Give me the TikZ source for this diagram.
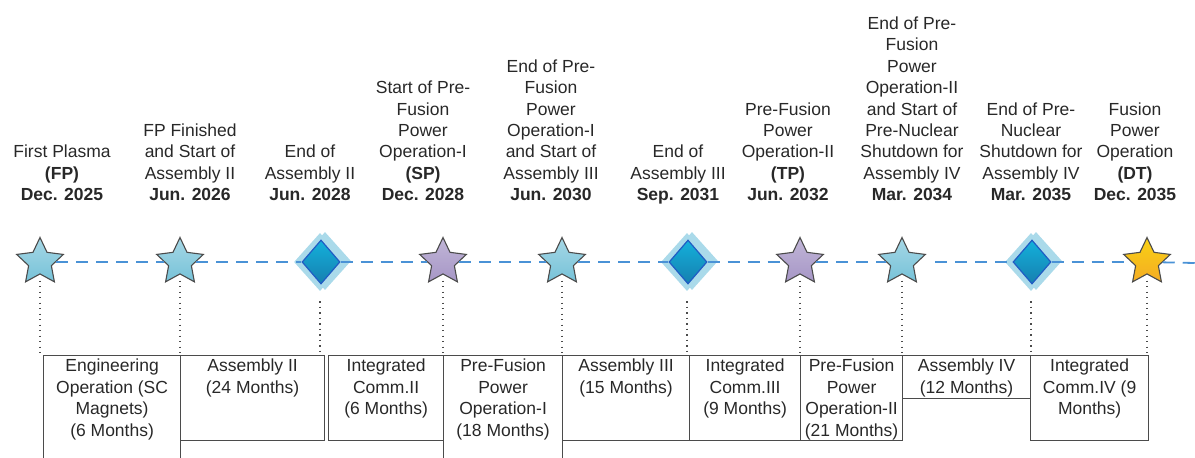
\documentclass[tikz,border=0pt]{standalone}
\usepackage{fontspec}
\setmainfont{Liberation Sans}
\definecolor{textgray}{RGB}{40,40,40}
\definecolor{linegray}{RGB}{75,75,75}
\definecolor{dashblue}{RGB}{74,146,214}
\definecolor{starcyan}{RGB}{118,194,216}
\definecolor{starpurple}{RGB}{166,150,198}
\definecolor{starorange}{RGB}{244,172,36}
\definecolor{diamblue}{RGB}{26,150,206}
\definecolor{diamedge}{RGB}{32,92,196}
\definecolor{halo}{RGB}{170,218,234}
\usetikzlibrary{shapes.geometric}
\newcommand\msdate[1]{\textbf{#1}\strut}

\begin{document}
\begin{tikzpicture}[x=1pt,y=-1pt,
  every node/.style={font=\fontsize{17.5}{21.4}\selectfont, text=textgray},
  milestone/.style={star, star points=5, star point ratio=2.05, minimum size=49pt,
    inner sep=0pt, draw=linegray, line width=1.1pt},
  cyanstar/.style={milestone, top color=starcyan!65!white, bottom color=starcyan},
  purplestar/.style={milestone, top color=starpurple!70!white, bottom color=starpurple},
  goldstar/.style={milestone, top color=starorange!55!yellow, bottom color=starorange},
  gate/.style={diamond, minimum width=38pt, minimum height=44pt, inner sep=0pt,
    draw=diamedge, line width=1.2pt, top color=diamblue!75!cyan, bottom color=diamblue!85!black},
  halo/.style={diamond, minimum width=52pt, minimum height=58pt, inner sep=0pt, fill=halo},
  timeline/.style={draw=dashblue, line width=1.8pt, dash pattern=on 12pt off 8pt},
  guide/.style={draw=linegray, line width=1.1pt, dash pattern=on 1.3pt off 4.2pt, shorten <=6pt},
  lbl/.style={anchor=south, align=center, inner sep=0pt},
  box/.style={draw=linegray, line width=1.2pt, inner sep=0pt, anchor=north west},
  boxtext/.style={anchor=north, align=center, inner sep=0pt, yshift=-4pt}]

  \useasboundingbox (0,0) rectangle (1195,458);
  \clip (0,0) rectangle (1195,458);

  % milestone labels
  \node[lbl] (l1) at (62,207.4) {First Plasma\\\textbf{(FP)}\\\msdate{Dec. 2025}};
  \node[lbl] (l2) at (190,207.4) {FP Finished\\and Start of\\Assembly II\\\msdate{Jun. 2026}};
  \node[lbl] (l3) at (310,207.4) {End of\\Assembly II\\\msdate{Jun. 2028}};
  \node[lbl] (l4) at (423,207.4) {Start of Pre-\\Fusion\\Power\\Operation-I\\\textbf{(SP)}\\\msdate{Dec. 2028}};
  \node[lbl] (l5) at (551,207.4) {End of Pre-\\Fusion\\Power\\Operation-I\\and Start of\\Assembly III\\\msdate{Jun. 2030}};
  \node[lbl] (l6) at (678,207.4) {End of\\Assembly III\\\msdate{Sep. 2031}};
  \node[lbl] (l7) at (788,207.4) {Pre-Fusion\\Power\\Operation-II\\\textbf{(TP)}\\\msdate{Jun. 2032}};
  \node[lbl] (l8) at (912,207.4) {End of Pre-\\Fusion\\Power\\Operation-II\\and Start of\\Pre-Nuclear\\Shutdown for\\Assembly IV\\\msdate{Mar. 2034}};
  \node[lbl] (l9) at (1031,207.4) {End of Pre-\\Nuclear\\Shutdown for\\Assembly IV\\\msdate{Mar. 2035}};
  \node[lbl] (l10) at (1135,207.4) {Fusion\\Power\\Operation\\\textbf{(DT)}\\\msdate{Dec. 2035}};

  % markers
  \node[halo] (h3) at (320,262) {};
  \node[halo, xshift=5pt, yshift=1pt] (h3b) at (320,262) {};
  \node[halo] (h6) at (687,262) {};
  \node[halo, xshift=5pt, yshift=1pt] (h6b) at (687,262) {};
  \node[halo] (h9) at (1031,262) {};
  \node[halo, xshift=5pt, yshift=1pt] (h9b) at (1031,262) {};

  \node[cyanstar] (m1) at (40,262) {};
  \node[cyanstar] (m2) at (180,262) {};
  \node[gate] (m3) at (321,262) {};
  \node[purplestar] (m4) at (443,262) {};
  \node[cyanstar] (m5) at (562,262) {};
  \node[gate] (m6) at (688,262) {};
  \node[purplestar] (m7) at (800,262) {};
  \node[cyanstar] (m8) at (902,262) {};
  \node[gate] (m9) at (1032,262) {};
  \node[goldstar] (m10) at (1147,262) {};
  \coordinate (tend) at (1195,263);

  \draw[timeline] (m1) -- (m2);
  \draw[timeline] (m2) -- (m3);
  \draw[timeline] (m3) -- (m4);
  \draw[timeline] (m4) -- (m5);
  \draw[timeline] (m5) -- (m6);
  \draw[timeline] (m6) -- (m7);
  \draw[timeline] (m7) -- (m8);
  \draw[timeline, shorten <=17pt] (m8) -- (m9);
  \draw[timeline] (m9) -- (m10);
  \draw[timeline] (m10) -- (tend);

  % phases
  \node[box, minimum width=137pt, minimum height=125pt] (b1) at (43,355) {};
  \node[box, minimum width=144pt, minimum height=85pt] (b2) at (180,355) {};
  \node[box, minimum width=115pt, minimum height=85pt] (b3) at (328,355) {};
  \node[box, minimum width=119pt, minimum height=125pt] (b4) at (443,355) {};
  \node[box, minimum width=127pt, minimum height=85pt] (b5) at (562,355) {};
  \node[box, minimum width=111pt, minimum height=85pt] (b6) at (689,355) {};
  \node[box, minimum width=102pt, minimum height=85pt] (b7) at (800,355) {};
  \node[box, minimum width=128pt, minimum height=43pt] (b8) at (902,355) {};
  \node[box, minimum width=118pt, minimum height=85pt] (b9) at (1030,355) {};

  \node[boxtext] (t1) at (b1.north) {Engineering\\Operation (SC\\Magnets)\\(6 Months)};
  \node[boxtext] (t2) at (b2.north) {Assembly II\\(24 Months)};
  \node[boxtext] (t3) at (b3.north) {Integrated\\Comm.II\\(6 Months)};
  \node[boxtext] (t4) at (b4.north) {Pre-Fusion\\Power\\Operation-I\\(18 Months)};
  \node[boxtext] (t5) at (b5.north) {Assembly III\\(15 Months)};
  \node[boxtext] (t6) at (b6.north) {Integrated\\Comm.III\\(9 Months)};
  \node[boxtext] (t7) at (b7.north) {Pre-Fusion\\Power\\Operation-II\\(21 Months)};
  \node[boxtext] (t8) at (b8.north) {Assembly IV\\(12 Months)};
  \node[boxtext] (t9) at (b9.north) {Integrated\\Comm.IV (9\\Months)};

  \draw[guide] (m1) -- (m1 |- b1.north);
  \draw[guide] (m2) -- (m2 |- b2.north);
  \draw[guide, shorten <=10pt] (h3) -- (h3 |- b2.north);
  \draw[guide] (m4) -- (m4 |- b4.north);
  \draw[guide] (m5) -- (m5 |- b5.north);
  \draw[guide, shorten <=10pt] (h6) -- (h6 |- b6.north);
  \draw[guide] (m7) -- (m7 |- b7.north);
  \draw[guide] (m8) -- (m8 |- b8.north);
  \draw[guide, shorten <=10pt] (h9) -- (h9 |- b9.north);
  \draw[guide] (m10) -- (m10 |- b9.north);
\end{tikzpicture}
\end{document}
